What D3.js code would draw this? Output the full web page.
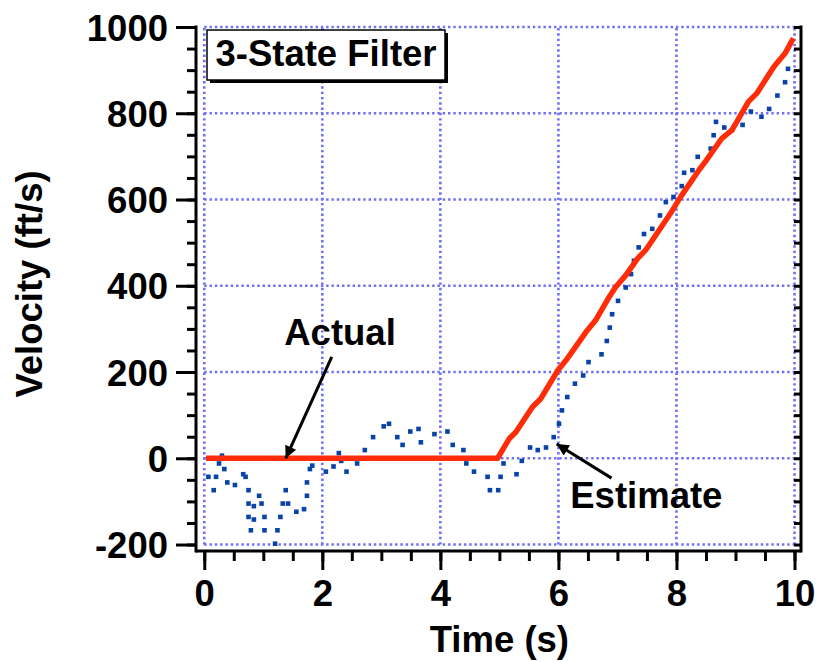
<!DOCTYPE html>
<html>
<head>
<meta charset="utf-8">
<script src="https://cdn.jsdelivr.net/npm/d3@7"></script>
<style>
  html,body{margin:0;padding:0;background:#fff;}
  svg{display:block;}
  text{font-family:"Liberation Sans",Arial,Helvetica,sans-serif;font-weight:bold;fill:#000;}
</style>
</head>
<body>
<div id="chart"></div>
<script>
// actual velocity (red line): time (s), velocity (ft/s)
const actualT = [0.03,4.97,5.17,5.28,5.56,5.70,5.99,6.15,6.49,6.63,6.86,6.97,7.14,7.34,7.48,7.90,8.07,8.38,8.49,8.77,8.94,9.22,9.36,9.65,9.84,9.98];
const actualV = [0,0,46,61,119,138,204,231,297,320,374,397,424,463,483,568,606,668,688,742,761,827,846,908,939,974];

// filter estimate (blue squares)
const estT = [0.07,0.16,0.20,0.25,0.30,0.34,0.39,0.52,0.66,0.70,0.75,0.75,0.75,0.79,0.84,0.84,0.93,0.97,1.02,1.02,
  1.20,1.24,1.29,1.33,1.38,1.42,1.56,1.69,1.74,1.74,1.79,1.83,1.96,2.06,2.19,2.28,2.32,2.41,2.59,2.72,
  2.86,3.04,3.13,3.27,3.36,3.49,3.63,3.67,3.90,4.12,4.21,4.39,4.44,4.57,4.80,4.84,4.98,5.02,5.07,5.29,
  5.38,5.52,5.65,5.79,5.92,6.01,6.06,6.15,6.28,6.42,6.51,6.73,6.82,6.87,6.91,7.01,7.14,7.23,7.28,7.36,
  7.45,7.59,7.72,7.82,7.95,8.09,8.13,8.27,8.36,8.58,8.63,8.67,8.81,8.94,9.12,9.26,9.44,9.57,9.71,9.84,9.89];
const estV = [-43,-74,-43,-12,6,-25,-56,-62,-37,-43,-74,-105,-136,-167,-111,-142,-87,-105,-136,-167,
  -198,-167,-136,-105,-74,-105,-124,-118,-87,-56,-25,-17,0,-31,-19,12,-6,-31,-12,19,
  49,74,80,49,31,62,68,37,56,62,31,19,-12,-31,-43,-74,-74,-43,-12,-37,
  -6,25,19,25,49,80,111,142,173,192,223,241,272,303,334,365,396,427,458,489,
  520,532,563,594,606,631,662,668,699,718,749,780,767,761,773,804,792,810,841,872,903];

const xTicks = [0,2,4,6,8,10];
const yTicks = [-200,0,200,400,600,800,1000];

const W = 822, H = 662;
const FONT = 36.5;
const x = d3.scaleLinear().domain([-0.14, 10.11]).range([196, 801]);
const y = d3.scaleLinear().domain([-215, 1000]).range([551, 27]);

const svg = d3.select('#chart').append('svg').attr('width', W).attr('height', H);

// dotted grid inside [0,10] x [-200,1000]
const grid = svg.append('g').attr('stroke', '#6f6ff4').attr('stroke-width', 2.6).attr('stroke-dasharray', '2.4 2.9');
grid.selectAll('line.v').data(xTicks).join('line').attr('class', 'v')
  .attr('x1', d => x(d)).attr('x2', d => x(d)).attr('y1', y(-200)).attr('y2', y(1000));
grid.selectAll('line.h').data(yTicks).join('line').attr('class', 'h')
  .attr('x1', x(0)).attr('x2', x(10)).attr('y1', d => y(d)).attr('y2', d => y(d));

// axes
const minorY = d3.range(-200, 1001, 50);
const minorX = d3.range(0, 10.01, 0.5);
const ax = svg.append('g').attr('stroke', '#000').attr('stroke-width', 3).attr('stroke-linecap', 'butt');

const gl = svg.append('g').attr('transform', `translate(${x.range()[0]},0)`);
gl.call(d3.axisLeft(y).tickValues(minorY).tickSize(9).tickFormat(''));
gl.call(g => g.append('g').call(d3.axisLeft(y).tickValues(yTicks).tickSize(20).tickPadding(8).tickFormat(d => String(d))));

const gr = svg.append('g').attr('transform', `translate(${x.range()[1]},0)`);
gr.call(d3.axisLeft(y).tickValues(minorY).tickSize(7).tickFormat(''));

const gb = svg.append('g').attr('transform', `translate(0,${y.range()[0]})`);
gb.call(d3.axisBottom(x).tickValues(minorX).tickSize(10).tickFormat(''));
gb.call(g => g.append('g').call(d3.axisBottom(x).tickValues(xTicks).tickSize(19).tickPadding(10).tickFormat(d => String(d))));

[gl, gr, gb].forEach(g => {
  g.selectAll('.domain').remove();
  g.selectAll('line').attr('stroke', '#000').attr('stroke-width', 3);
  g.selectAll('text').attr('font-size', FONT).attr('fill', '#000')
    .style('font-family', '"Liberation Sans",Arial,sans-serif').style('font-weight', 'bold');
});
gl.selectAll('text').attr('dy', '0.36em');
gb.selectAll('text').attr('dy', '0.72em');

// frame lines (left, right, bottom)
ax.append('line').attr('x1', x.range()[0]).attr('x2', x.range()[0]).attr('y1', y.range()[1] - 1.5).attr('y2', y.range()[0] + 1.5);
ax.append('line').attr('x1', x.range()[1]).attr('x2', x.range()[1]).attr('y1', y.range()[1] - 1.5).attr('y2', y.range()[0] + 1.5);
ax.append('line').attr('x1', x.range()[0]).attr('x2', x.range()[1]).attr('y1', y.range()[0]).attr('y2', y.range()[0]);

// estimate squares
const S = 4.6;
svg.append('g').selectAll('rect').data(estT.map((t, i) => [t, estV[i]])).join('rect')
  .attr('x', d => x(d[0]) - S / 2).attr('y', d => y(d[1]) - S / 2)
  .attr('width', S).attr('height', S).attr('fill', '#0a43a8');

// actual line
svg.append('path').datum(actualT.map((t, i) => [t, actualV[i]]))
  .attr('d', d3.line().x(d => x(d[0])).y(d => y(d[1])))
  .attr('fill', 'none').attr('stroke', '#ff2c08').attr('stroke-width', 5.5).attr('stroke-linejoin', 'round');

// arrows + labels
svg.append('defs').append('marker').attr('id', 'ah').attr('viewBox', '0 0 10 10')
  .attr('refX', 10).attr('refY', 5).attr('markerWidth', 5).attr('markerHeight', 4)
  .attr('markerUnits', 'strokeWidth').attr('orient', 'auto')
  .append('path').attr('d', 'M0,0L10,5L0,10Z').attr('fill', '#000');

const notes = [
  {label: 'Actual', lx: 2.30, ly: 263, anchor: 'middle', from: [2.16, 235], to: [1.38, 0]},
  {label: 'Estimate', lx: 7.49, ly: -115, anchor: 'middle', from: [6.90, -46], to: [5.97, 33]}
];
notes.forEach(n => {
  svg.append('line').attr('x1', x(n.from[0])).attr('y1', y(n.from[1]))
    .attr('x2', x(n.to[0])).attr('y2', y(n.to[1]))
    .attr('stroke', '#000').attr('stroke-width', 3).attr('marker-end', 'url(#ah)');
  svg.append('text').attr('x', x(n.lx)).attr('y', y(n.ly)).attr('text-anchor', n.anchor)
    .attr('font-size', FONT).text(n.label);
});

// title box
const bx = 207, by = 30, bw = 238, bh = 50;
svg.append('rect').attr('x', bx + 3).attr('y', by + 3).attr('width', bw).attr('height', bh).attr('fill', '#000');
svg.append('rect').attr('x', bx).attr('y', by).attr('width', bw).attr('height', bh)
  .attr('fill', '#fff').attr('stroke', '#000').attr('stroke-width', 1.5);
svg.append('text').attr('x', bx + bw / 2).attr('y', 65.5).attr('text-anchor', 'middle')
  .attr('font-size', FONT).text('3-State Filter');

// axis titles
svg.append('text').attr('x', (x(0) + x(10)) / 2).attr('y', 652).attr('text-anchor', 'middle')
  .attr('font-size', FONT).text('Time (s)');
svg.append('text').attr('transform', 'translate(42,284) rotate(-90)').attr('text-anchor', 'middle')
  .attr('font-size', FONT).text('Velocity (ft/s)');
</script>
</body>
</html>
